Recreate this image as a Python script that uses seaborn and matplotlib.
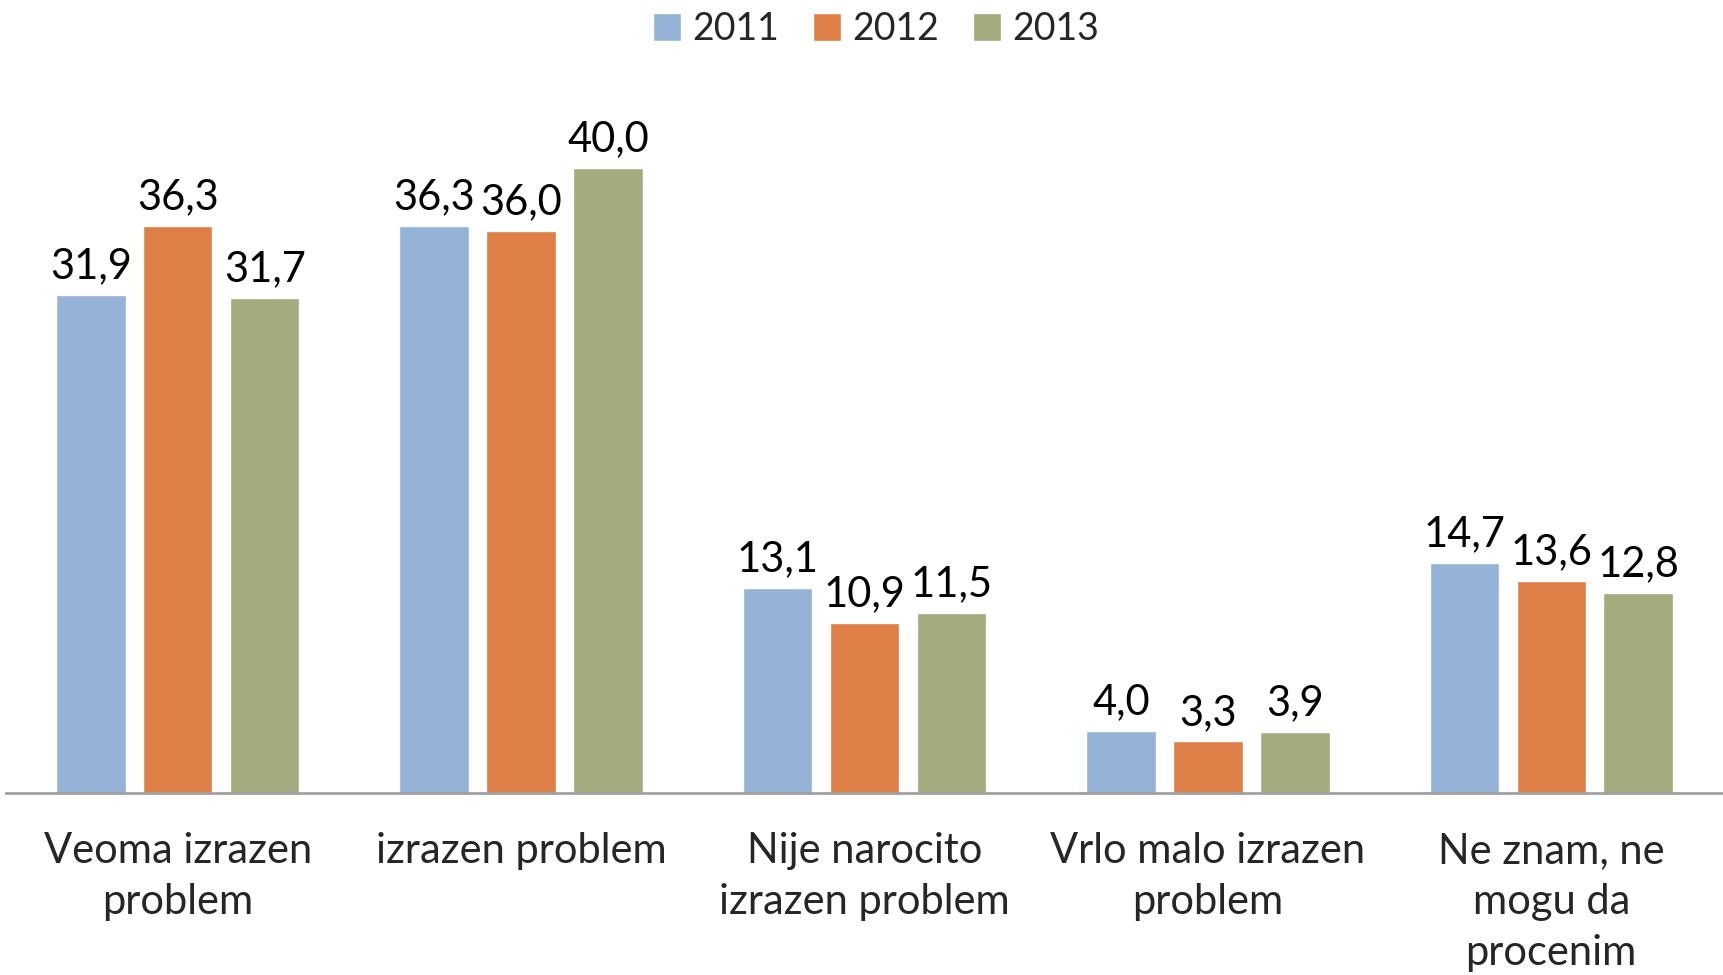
import pandas as pd
import matplotlib
matplotlib.use("Agg")
import matplotlib.pyplot as plt
import seaborn as sns

categories = [
    "Veoma izrazen\nproblem",
    "izrazen problem",
    "Nije narocito\nizrazen problem",
    "Vrlo malo izrazen\nproblem",
    "Ne znam, ne\nmogu da\nprocenim",
]
years = ["2011", "2012", "2013"]
values_2011 = [31.9, 36.3, 13.1, 4.0, 14.7]
values_2012 = [36.3, 36.0, 10.9, 3.3, 13.6]
values_2013 = [31.7, 40.0, 11.5, 3.9, 12.8]
colors = ["#95B3D7", "#DD7F47", "#A4AB7F"]

# long format for seaborn
df = pd.DataFrame({
    "category": categories * 3,
    "year": [y for y in years for _ in categories],
    "value": values_2011 + values_2012 + values_2013,
})

sns.set_style("white")
plt.rcParams["font.family"] = ["Lato", "DejaVu Sans"]

fig = plt.figure(figsize=(17.23, 9.75), dpi=100)
ax = fig.add_axes([6 / 1723, 182 / 975, 1717 / 1723, 703 / 975])

sns.barplot(data=df, x="category", y="value", hue="year", order=categories,
            hue_order=years, palette=colors, width=0.76, gap=0.2,
            saturation=1, ax=ax, legend=True)

for cont in ax.containers:
    ax.bar_label(cont, labels=[f"{v:.1f}".replace(".", ",") for v in cont.datavalues],
                 padding=7, fontsize=30, color="black")

ax.set_ylim(0, 45)
ax.set_xlim(-0.5, 4.5)
ax.set_xlabel("")
ax.set_ylabel("")
ax.set_yticks([])
ax.tick_params(axis="x", length=0, pad=28, labelsize=30)
for lbl in ax.get_xticklabels():
    lbl.set_linespacing(1.42)
for side in ["top", "right", "left"]:
    ax.spines[side].set_visible(False)
ax.spines["bottom"].set_color("#A0A0A0")
ax.spines["bottom"].set_linewidth(2)

handles, labels = ax.get_legend_handles_labels()
ax.get_legend().remove()
fig.legend(handles, labels, loc="center", bbox_to_anchor=(876 / 1723, 1 - 29 / 975),
           ncol=3, frameon=False, fontsize=27, handlelength=0.75, handleheight=0.75,
           handletextpad=0.3, columnspacing=0.9)

fig.savefig("out.png", dpi=100)
plt.close(fig)
